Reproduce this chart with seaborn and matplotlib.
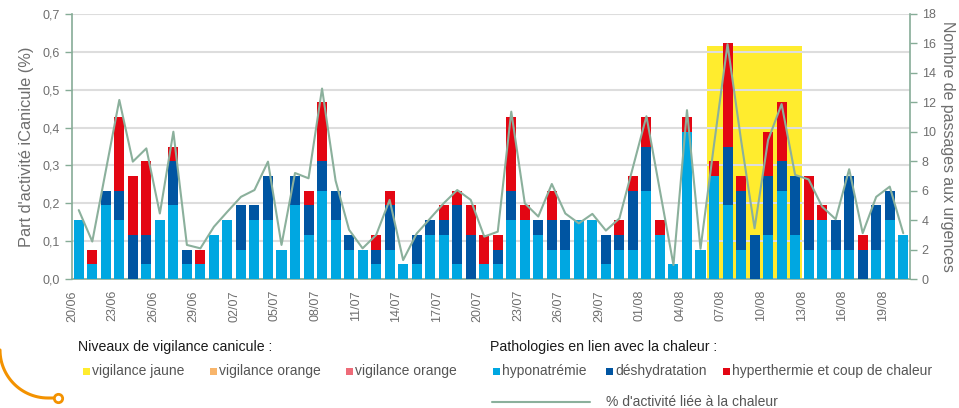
import matplotlib
matplotlib.use("Agg")

import numpy as np
import pandas as pd
import seaborn as sns
from matplotlib import pyplot as plt
from matplotlib.lines import Line2D
from matplotlib.patches import Rectangle
from matplotlib.ticker import FuncFormatter, MultipleLocator


# days 20/06 -> 20/08
dates = [d.strftime("%d/%m") for d in pd.date_range("2019-06-20", "2019-08-20")]

hyponatremie = [4, 1, 5, 4, 0, 1, 4, 5, 1, 1,
                3, 4, 2, 4, 4, 2, 5, 3, 6, 4,
                2, 2, 1, 2, 1, 1, 3, 3, 1, 0,
                1, 1, 4, 4, 3, 2, 2, 4, 4, 1,
                2, 2, 6, 3, 1, 10, 2, 7, 5, 2,
                0, 3, 6, 3, 2, 4, 2, 2, 0, 2,
                4, 3]
deshydratation = [0, 0, 1, 2, 3, 2, 0, 3, 1, 0,
                  0, 0, 3, 1, 3, 0, 2, 2, 2, 2,
                  1, 0, 1, 3, 0, 2, 1, 1, 4, 3,
                  0, 1, 2, 0, 1, 2, 2, 0, 0, 2,
                  1, 4, 3, 0, 0, 0, 0, 0, 4, 4,
                  3, 4, 2, 4, 2, 0, 2, 5, 2, 3,
                  2, 0]
hyperthermie = [0, 1, 0, 5, 4, 5, 0, 1, 0, 1,
                0, 0, 0, 0, 0, 0, 0, 1, 4, 0,
                0, 0, 1, 1, 0, 0, 0, 1, 1, 2,
                2, 1, 5, 1, 0, 2, 0, 0, 0, 0,
                1, 1, 2, 1, 0, 1, 0, 1, 7, 1,
                0, 3, 4, 0, 3, 1, 0, 0, 1, 0,
                0, 0]
part_activite = [0.182, 0.099, 0.286, 0.473, 0.31, 0.345, 0.173, 0.389, 0.09, 0.081,
                 0.138, 0.178, 0.217, 0.235, 0.31, 0.09, 0.28, 0.266, 0.503, 0.26,
                 0.13, 0.081, 0.116, 0.209, 0.05, 0.12, 0.16, 0.2, 0.235, 0.209,
                 0.112, 0.125, 0.442, 0.2, 0.165, 0.251, 0.173, 0.147, 0.172, 0.128,
                 0.16, 0.295, 0.43, 0.233, 0.037, 0.446, 0.08, 0.355, 0.62, 0.367,
                 0.134, 0.367, 0.462, 0.275, 0.263, 0.191, 0.158, 0.29, 0.121, 0.217,
                 0.244, 0.121]

vigilance_jaune = ("06/08", "12/08")
vigilance_jaune_top = 0.615

LIGHT = "#00A7E1"
DARK = "#0055A2"
RED = "#E30613"
YELLOW = "#FFEC2E"
ORANGE = "#F8B56B"
PINK = "#EE6B78"
LINE = "#8BB09C"
AXIS = "#86AC97"
GRID = "#DDDDDD"
TXT = "#6E6E6E"

sns.set_style("white")
plt.rcParams["font.family"] = ["Liberation Sans Narrow", "Liberation Sans", "DejaVu Sans"]

df = pd.DataFrame({"jour": range(len(dates)), "hypo": hyponatremie,
                   "deshy": deshydratation, "hyper": hyperthermie, "pct": part_activite})
df["hypo_deshy"] = df["hypo"] + df["deshy"]
df["total"] = df["hypo_deshy"] + df["hyper"]

W, H = 959, 408
fig = plt.figure(figsize=(W / 100, H / 100), dpi=100)
ax = fig.add_axes([72 / W, 1 - 279 / H, (910 - 72) / W, (279 - 14) / H])
ax_bars = ax.twinx()
ax_line = ax.twinx()

# background: yellow vigilance period + grid
j0, j1 = dates.index(vigilance_jaune[0]), dates.index(vigilance_jaune[1])
ax.axvspan(j0 - 0.5, j1 + 0.5, ymax=vigilance_jaune_top / 0.7, color=YELLOW, lw=0, zorder=0.2)
ax.set_axisbelow(True)
ax.yaxis.grid(True, color=GRID, lw=1.5)

# stacked bars
for col, color in [("total", RED), ("hypo_deshy", DARK), ("hypo", LIGHT)]:
    sns.barplot(data=df, x="jour", y=col, color=color, saturation=1, width=0.74,
                errorbar=None, linewidth=0, ax=ax_bars)

sns.lineplot(data=df, x="jour", y="pct", color=LINE, lw=1.5, ax=ax_line)

ax.set_xlim(-0.5, len(dates) - 0.5)
ax.set_ylim(0, 0.7)
ax_line.set_ylim(0, 0.7)
ax_bars.set_ylim(0, 18)

major = np.arange(0, len(dates), 3)
ax.set_xticks(major - 0.5, [dates[i] for i in major], rotation=90)
ax.set_xticks(np.arange(len(dates) + 1) - 0.5, minor=True)
ax.tick_params(axis="x", which="major", length=5, width=1, color=AXIS, labelsize=9,
               labelcolor=TXT, pad=3)
ax.tick_params(axis="x", which="minor", length=3, width=1, color=AXIS, direction="in")
ax.set_xlabel("")

ax.yaxis.set_major_locator(MultipleLocator(0.1))
ax.yaxis.set_major_formatter(FuncFormatter(lambda v, p: f"{v:.1f}".replace(".", ",")))
ax.tick_params(axis="y", length=5, width=1, color=AXIS, labelsize=9, labelcolor=TXT, left=True)
ax.set_ylabel("Part d'activité iCanicule (%)", fontsize=11.8, color=TXT, labelpad=6)

ax_bars.yaxis.set_major_locator(MultipleLocator(2))
ax_bars.tick_params(axis="y", length=5, width=1, color=AXIS, labelsize=9, labelcolor=TXT, right=True)
ax_bars.set_ylabel("Nombre de passages aux urgences", fontsize=11.4, color=TXT,
                   rotation=270, labelpad=14)

ax_line.set_yticks([])
ax_line.set_ylabel("")

for a in (ax, ax_bars, ax_line):
    for s in a.spines.values():
        s.set_visible(False)
for a, side in [(ax, "left"), (ax, "bottom"), (ax_bars, "right")]:
    a.spines[side].set_visible(True)
    a.spines[side].set_color(AXIS)
    a.spines[side].set_linewidth(1.2)


# legend block under the chart
def fx(x):
    return x / W


def fy(y):
    return 1 - y / H


def legend_item(x, y, color, label):
    fig.add_artist(Rectangle((fx(x), fy(y + 3.5)), 7 / W, 7 / H, color=color,
                             transform=fig.transFigure, lw=0))
    fig.text(fx(x + 9), fy(y), label, fontsize=10, color="#555555", va="center")


fig.text(fx(78), fy(347), "Niveaux de vigilance canicule :", fontsize=10.2, color="#1a1a1a", va="center")
legend_item(83, 371, YELLOW, "vigilance jaune")
legend_item(210, 371, ORANGE, "vigilance orange")
legend_item(346, 371, PINK, "vigilance orange")

fig.text(fx(490), fy(347), "Pathologies en lien avec la chaleur :", fontsize=10.2, color="#1a1a1a", va="center")
legend_item(493, 371, LIGHT, "hyponatrémie")
legend_item(606, 371, DARK, "déshydratation")
legend_item(723, 371, RED, "hyperthermie et coup de chaleur")
fig.add_artist(Line2D([fx(492), fx(590)], [fy(402), fy(402)], color=LINE, lw=1.5,
                      transform=fig.transFigure))
fig.text(fx(606), fy(402), "% d'activité liée à la chaleur", fontsize=10, color="#555555", va="center")

# orange decorative hook bottom-left
t = np.linspace(np.pi, 1.5 * np.pi, 30)
hx = 48 + 48 * np.cos(t)
hy = 350 - 48 * np.sin(t)
fig.add_artist(Line2D(fx(np.append(hx, 54)), fy(np.append(hy, 398)), color="#F39200", lw=2.2,
                      transform=fig.transFigure))
fig.add_artist(Line2D([fx(58)], [fy(398)], marker="o", ms=6, mfc="white", mec="#F39200", mew=2,
                      transform=fig.transFigure))

fig.savefig("out.png", dpi=100)
